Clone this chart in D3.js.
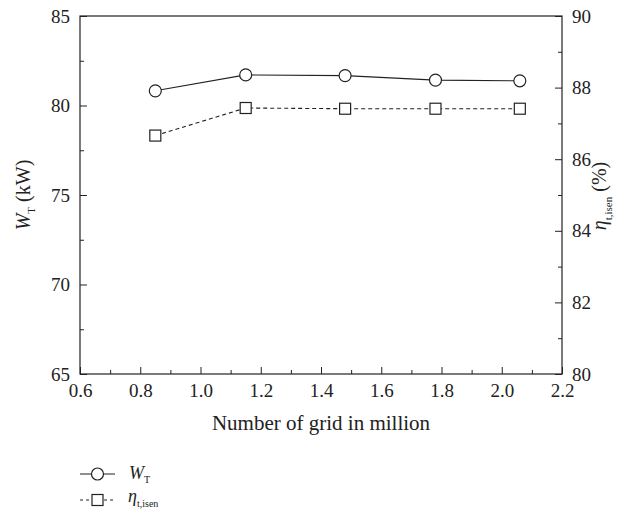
<!DOCTYPE html>
<html>
<head>
<meta charset="utf-8">
<script src="https://cdn.jsdelivr.net/npm/d3@7"></script>
<style>
  html, body { margin: 0; padding: 0; background: #fff; }
  svg text { font-family: "Liberation Serif", "Times New Roman", serif; fill: #222; }
</style>
</head>
<body>
<svg id="chart" width="624" height="515"></svg>
<script>
// Grid size (millions of cells)
const grids = [0.85, 1.15, 1.48, 1.78, 2.06];
// Turbine power W_T (kW)
const powerKW = [80.82, 81.71, 81.67, 81.42, 81.38];
// Isentropic efficiency (%)
const efficiency = [86.66, 87.43, 87.41, 87.41, 87.41];

const xTicks = [0.6, 0.8, 1.0, 1.2, 1.4, 1.6, 1.8, 2.0, 2.2];
const leftTicks = [65, 70, 75, 80, 85];
const rightTicks = [80, 82, 84, 86, 88, 90];

const FONT = "Liberation Serif";
const svg = d3.select("#chart");
const m = { left: 80, right: 562, top: 16, bottom: 374 };
const ink = "#222";

const x = d3.scaleLinear().domain([0.6, 2.2]).range([m.left, m.right]);
const yL = d3.scaleLinear().domain([65, 85]).range([m.bottom, m.top]);
const yR = d3.scaleLinear().domain([80, 90]).range([m.bottom, m.top]);

// frame
svg.append("rect")
  .attr("x", m.left).attr("y", m.top)
  .attr("width", m.right - m.left).attr("height", m.bottom - m.top)
  .attr("fill", "none").attr("stroke", ink).attr("stroke-width", 1.2);

function styleAxis(g) {
  g.attr("font-family", null).attr("font-size", null);
  g.select(".domain").remove();
  g.selectAll(".tick line").attr("stroke", ink).attr("stroke-width", 1);
  g.selectAll(".tick text")
    .attr("font-family", FONT).attr("font-size", 19)
    .attr("fill", ink);
}

// bottom axis, ticks pointing inward
const xMinor = d3.range(0.7, 2.2, 0.2);
svg.append("g").attr("transform", `translate(0,${m.bottom})`)
  .call(d3.axisBottom(x).tickValues(xMinor).tickSize(-4).tickFormat(""))
  .call(styleAxis);
svg.append("g").attr("transform", `translate(0,${m.bottom})`)
  .call(d3.axisBottom(x).tickValues(xTicks).tickSize(-7).tickPadding(10).tickFormat(d3.format(".1f")))
  .call(styleAxis);

// left axis
svg.append("g").attr("transform", `translate(${m.left},0)`)
  .call(d3.axisLeft(yL).tickValues([67.5, 72.5, 77.5, 82.5]).tickSize(-4).tickFormat(""))
  .call(styleAxis);
svg.append("g").attr("transform", `translate(${m.left},0)`)
  .call(d3.axisLeft(yL).tickValues(leftTicks).tickSize(-7).tickPadding(10).tickFormat(d3.format("d")))
  .call(styleAxis);

// right axis
svg.append("g").attr("transform", `translate(${m.right},0)`)
  .call(d3.axisRight(yR).tickValues([81, 83, 85, 87, 89]).tickSize(-4).tickFormat(""))
  .call(styleAxis);
svg.append("g").attr("transform", `translate(${m.right},0)`)
  .call(d3.axisRight(yR).tickValues(rightTicks).tickSize(-7).tickPadding(10).tickFormat(d3.format("d")))
  .call(styleAxis);

// axis titles
svg.append("text")
  .attr("x", 321).attr("y", 430)
  .attr("text-anchor", "middle").attr("font-size", 21)
  .text("Number of grid in million");

const lt = svg.append("text")
  .attr("transform", `translate(30,195) rotate(-90)`)
  .attr("text-anchor", "middle").attr("font-size", 20);
lt.append("tspan").attr("font-style", "italic").text("W");
lt.append("tspan").attr("font-size", 11).attr("dy", 5).text("T");
lt.append("tspan").attr("dy", -5).text(" (kW)");

const rt = svg.append("text")
  .attr("transform", `translate(606,196) rotate(-90)`)
  .attr("text-anchor", "middle").attr("font-size", 20);
rt.append("tspan").attr("font-style", "italic").text("η");
rt.append("tspan").attr("font-size", 11).attr("dy", 6).text("t,isen");
rt.append("tspan").attr("dy", -6).text(" (%)");

// series
const pts = grids.map((g, i) => ({ g, w: powerKW[i], e: efficiency[i] }));

svg.append("path").datum(pts)
  .attr("fill", "none").attr("stroke", ink).attr("stroke-width", 1.1)
  .attr("d", d3.line().x(d => x(d.g)).y(d => yL(d.w)));

svg.append("path").datum(pts)
  .attr("fill", "none").attr("stroke", ink).attr("stroke-width", 1.1)
  .attr("stroke-dasharray", "4,3")
  .attr("d", d3.line().x(d => x(d.g)).y(d => yR(d.e)));

svg.selectAll("circle.w").data(pts).join("circle")
  .attr("class", "w")
  .attr("cx", d => x(d.g)).attr("cy", d => yL(d.w)).attr("r", 6)
  .attr("fill", "#fff").attr("stroke", ink).attr("stroke-width", 1.2);

svg.selectAll("rect.e").data(pts).join("rect")
  .attr("class", "e")
  .attr("x", d => x(d.g) - 5.5).attr("y", d => yR(d.e) - 5.5)
  .attr("width", 11).attr("height", 11)
  .attr("fill", "#fff").attr("stroke", ink).attr("stroke-width", 1.2);

// legend
const lg = svg.append("g");
lg.append("line").attr("x1", 80).attr("x2", 115).attr("y1", 474).attr("y2", 474)
  .attr("stroke", ink).attr("stroke-width", 1.1);
lg.append("circle").attr("cx", 97.5).attr("cy", 474).attr("r", 6)
  .attr("fill", "#fff").attr("stroke", ink).attr("stroke-width", 1.2);
const l1 = lg.append("text").attr("x", 129).attr("y", 479).attr("font-size", 18);
l1.append("tspan").attr("font-style", "italic").text("W");
l1.append("tspan").attr("font-size", 10).attr("dy", 4).text("T");

lg.append("line").attr("x1", 80).attr("x2", 115).attr("y1", 500).attr("y2", 500)
  .attr("stroke", ink).attr("stroke-width", 1.1).attr("stroke-dasharray", "3,3");
lg.append("rect").attr("x", 92).attr("y", 494.5).attr("width", 11).attr("height", 11)
  .attr("fill", "#fff").attr("stroke", ink).attr("stroke-width", 1.2);
const l2 = lg.append("text").attr("x", 128).attr("y", 502).attr("font-size", 18);
l2.append("tspan").attr("font-style", "italic").text("η");
l2.append("tspan").attr("font-size", 10).attr("dy", 5).text("t,isen");
</script>
</body>
</html>
